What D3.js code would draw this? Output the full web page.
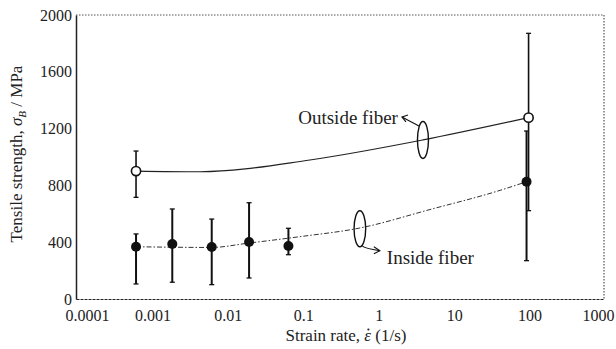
<!DOCTYPE html>
<html><head><meta charset="utf-8">
<script src="https://cdn.jsdelivr.net/npm/d3@7"></script>
<style>body{margin:0;background:#fff} svg{display:block}</style>
</head><body><svg id="c" width="616" height="349"></svg>
<script>
// ---- data ----
const xTicks = [0.0001, 0.001, 0.01, 0.1, 1, 10, 100, 1000];
const xTickLabels = ["0.0001", "0.001", "0.01", "0.1", "1", "10", "100", "1000"];
const yTicks = [0, 400, 800, 1200, 1600, 2000];
const yTickLabels = ["0", "400", "800", "1200", "1600", "2000"];

const outsideRate = [0.000625, 100];
const outsideStrength = [901, 1277];
const outsideLow = [716, 622];
const outsideHigh = [1042, 1871];

const insideRate = [0.000625, 0.00189, 0.0063, 0.0197, 0.0655, 94];
const insideStrength = [368, 387, 366, 401, 373, 826];
const insideLow = [106, 118, 101, 148, 312, 270];
const insideHigh = [458, 634, 563, 678, 498, 1183];

const outsideFitRate = [0.000625, 0.0044, 0.126, 3.98, 100];
const outsideFitStrength = [901, 896, 979, 1120, 1277];
const insideFitRate = [0.000625, 0.0062, 0.0196, 0.093, 0.58, 4.93, 41.8, 94];
const insideFitStrength = [368, 363, 394, 439, 500, 630, 765, 826];

const annotLabels = ["Outside fiber", "Inside fiber"];
const annotEllipseRate = [3.98, 0.58];
const annotEllipseStrength = [1120, 495];

// ---- layout ----
const W = 616, H = 349;
const m = {l: 76, r: 12, t: 15, b: 50};
const svg = d3.select("#c");
const font = "'Liberation Serif','Times New Roman',serif";

const x = d3.scaleLog().domain([1e-4, 1e3]).range([m.l, W - m.r]);
const y = d3.scaleLinear().domain([0, 2000]).range([H - m.b, m.t]);

// frame
svg.append("line").attr("x1", m.l).attr("x2", W - m.r).attr("y1", m.t).attr("y2", m.t)
  .attr("stroke", "#555").attr("stroke-width", 1).attr("stroke-dasharray", "1.5,1.5");
svg.append("line").attr("x1", W - m.r).attr("x2", W - m.r).attr("y1", m.t).attr("y2", H - m.b)
  .attr("stroke", "#333").attr("stroke-width", 1).attr("stroke-dasharray", "1.5,1.5");

// axes
const xAxis = d3.axisBottom(x).tickValues(xTicks).tickSize(0).tickPadding(11)
  .tickFormat((d, i) => xTickLabels[i]);
const gx = svg.append("g").attr("transform", `translate(0,${H - m.b})`).call(xAxis);
gx.attr("font-family", font);
gx.select(".domain").attr("stroke", "#222").attr("stroke-width", 1.2).attr("stroke-dasharray", "3,1");
gx.selectAll("text").attr("font-family", font).attr("font-size", 16).attr("fill", "#222")
  .attr("dx", (d, i) => i === 0 ? 11 : (i === xTicks.length - 1 ? -6 : 1));

const yAxis = d3.axisLeft(y).tickValues(yTicks).tickSize(0).tickPadding(4)
  .tickFormat((d, i) => yTickLabels[i]);
const gy = svg.append("g").attr("transform", `translate(${m.l},0)`).call(yAxis);
gy.attr("font-family", font);
gy.select(".domain").attr("stroke", "#222").attr("stroke-width", 1.5);
gy.selectAll("text").attr("font-family", font).attr("font-size", 16).attr("fill", "#222");

// axis titles
const xt = svg.append("text").attr("x", 346).attr("y", 341).attr("text-anchor", "middle")
  .attr("font-family", font).attr("font-size", 17).attr("fill", "#222");
xt.append("tspan").text("Strain rate, ");
const eps = xt.append("tspan").attr("font-style", "italic").text("\u03B5");
xt.append("tspan").text(" (1/s)");
// overdot of the epsilon (drawn as a tiny mark above the glyph)
{
  const n = eps.node();
  const p = n.getStartPositionOfChar(0);
  const w = n.getComputedTextLength();
  svg.append("circle").attr("cx", p.x + w * 0.6).attr("cy", p.y - 11.5).attr("r", 1.1).attr("fill", "#222");
}

const yt = svg.append("text").attr("transform", "translate(22,154) rotate(-90)")
  .attr("text-anchor", "middle").attr("font-family", font).attr("font-size", 17).attr("fill", "#222");
yt.append("tspan").text("Tensile strength, ");
yt.append("tspan").attr("font-style", "italic").text("\u03C3");
yt.append("tspan").attr("font-style", "italic").attr("font-size", 11).attr("dy", 4).text("B");
yt.append("tspan").attr("dy", -4).text(" / MPa");

// fit curves
const line = d3.line().x(d => x(d[0])).y(d => y(d[1])).curve(d3.curveMonotoneX);
svg.append("path").datum(d3.zip(outsideFitRate, outsideFitStrength))
  .attr("d", line).attr("fill", "none").attr("stroke", "#222").attr("stroke-width", 1.2);
svg.append("path").datum(d3.zip(insideFitRate, insideFitStrength))
  .attr("d", line).attr("fill", "none").attr("stroke", "#333").attr("stroke-width", 1)
  .attr("stroke-dasharray", "5,2,1.5,2");

// error bars
function errBars(rates, lows, highs, sw) {
  const g = svg.append("g").attr("stroke", "#111").attr("stroke-width", sw);
  rates.forEach((r, i) => {
    g.append("line").attr("x1", x(r)).attr("x2", x(r)).attr("y1", y(lows[i])).attr("y2", y(highs[i]));
    [lows[i], highs[i]].forEach(v => g.append("line").attr("stroke-width", 1.3)
      .attr("x1", x(r) - 2.5).attr("x2", x(r) + 2.5).attr("y1", y(v)).attr("y2", y(v)));
  });
}
errBars(insideRate, insideLow, insideHigh, 2);
errBars(outsideRate, outsideLow, outsideHigh, 1.6);

// markers
svg.append("g").selectAll("circle").data(d3.zip(insideRate, insideStrength)).join("circle")
  .attr("cx", d => x(d[0])).attr("cy", d => y(d[1])).attr("r", 5).attr("fill", "#111");
svg.append("g").selectAll("circle").data(d3.zip(outsideRate, outsideStrength)).join("circle")
  .attr("cx", d => x(d[0])).attr("cy", d => y(d[1])).attr("r", 4.6)
  .attr("fill", "#fff").attr("stroke", "#111").attr("stroke-width", 1.6);

// annotations
const ag = svg.append("g").attr("stroke", "#111").attr("fill", "none").attr("stroke-width", 1.4);
// outside
{
  const cx = x(annotEllipseRate[0]), cy = y(annotEllipseStrength[0]);
  ag.append("ellipse").attr("cx", cx).attr("cy", cy).attr("rx", 5.5).attr("ry", 18.5);
  const tx = cx - 4, ty = cy - 14, hx = cx - 21, hy = cy - 23;
  ag.append("line").attr("x1", tx).attr("y1", ty).attr("x2", hx).attr("y2", hy).attr("stroke-width", 1.1);
  ag.append("path").attr("d", `M${hx + 6},${hy - 2}L${hx},${hy}L${hx + 4},${hy + 5}`).attr("stroke-width", 1.1);
  svg.append("text").attr("x", hx - 4).attr("y", hy + 7).attr("text-anchor", "end")
    .attr("font-family", font).attr("font-size", 19).attr("fill", "#222").text(annotLabels[0]);
}
// inside
{
  const cx = x(annotEllipseRate[1]), cy = y(annotEllipseStrength[1]);
  ag.append("ellipse").attr("cx", cx).attr("cy", cy).attr("rx", 5.8).attr("ry", 18);
  const tx = cx + 2, ty = cy + 17, hx = cx + 20, hy = cy + 22;
  ag.append("path").attr("d", `M${tx},${ty}Q${tx + 3},${ty + 3} ${hx},${hy}`).attr("stroke-width", 1.1);
  ag.append("path").attr("d", `M${hx - 6},${hy - 4}L${hx},${hy}L${hx - 6},${hy + 3}`).attr("stroke-width", 1.1);
  svg.append("text").attr("x", hx + 7).attr("y", hy + 13).attr("text-anchor", "start")
    .attr("font-family", font).attr("font-size", 19).attr("fill", "#222").text(annotLabels[1]);
}
</script></body></html>
